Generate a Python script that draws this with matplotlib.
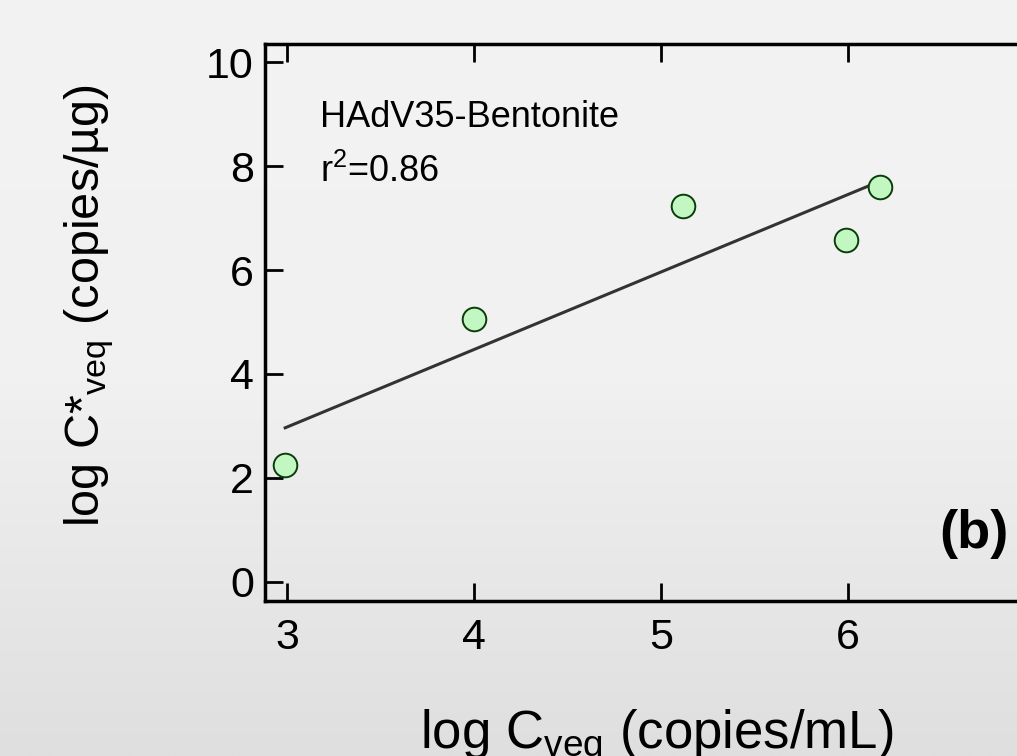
import matplotlib
matplotlib.use("Agg")
import matplotlib.pyplot as plt
import numpy as np

# data
log_c_veq = [2.99, 4.00, 5.12, 5.99, 6.17]
log_c_star = [2.25, 5.06, 7.23, 6.58, 7.60]
x_ticks = [3, 4, 5, 6]
y_ticks = [0, 2, 4, 6, 8, 10]

plt.rcParams['font.family'] = ['Liberation Sans', 'DejaVu Sans']
plt.rcParams['mathtext.fontset'] = 'custom'
plt.rcParams['mathtext.rm'] = 'Liberation Sans'
plt.rcParams['mathtext.it'] = 'Liberation Sans'
plt.rcParams['mathtext.default'] = 'regular'

fig = plt.figure(figsize=(10.17, 7.56), dpi=100)

# gray gradient background
bg = fig.add_axes([0, 0, 1, 1], zorder=-10)
grad = np.linspace(0, 1, 256).reshape(-1, 1)
bg.imshow(grad, aspect='auto', cmap=matplotlib.colors.LinearSegmentedColormap.from_list(
    'g', ['#f3f3f3', '#f1f1f1', '#dfdfdf']), extent=[0, 1, 0, 1])
bg.axis('off')

ax = fig.add_axes([265 / 1017, 1 - 601 / 756, (1060 - 265) / 1017, (601 - 44) / 756])
ax.set_facecolor('none')

# linear fit
slope, intercept = np.polyfit(log_c_veq, log_c_star, 1)
xf = np.array([min(log_c_veq), max(log_c_veq)])
ax.plot(xf, slope * xf + intercept, color='#333333', lw=2.2, zorder=2)

ax.plot(log_c_veq, log_c_star, 'o', ms=17, mfc='#c2f7c2', mec='#0b3d0b', mew=1.4, zorder=3)

ax.set_xlim(2.882, 7.134)
ax.set_ylim(-0.37, 10.35)
ax.set_xticks(x_ticks)
ax.set_yticks(y_ticks)

for s in ['left', 'bottom', 'top']:
    ax.spines[s].set_linewidth(2.5)
ax.spines['right'].set_visible(False)

ax.tick_params(axis='x', direction='in', length=13, width=2, top=True, labelsize=31, pad=12)
ax.tick_params(axis='y', direction='in', length=13, width=2, right=False, labelsize=31, pad=8)

ax.text(3.176, 8.75, 'HAdV35-Bentonite', fontsize=26, va='baseline')
ax.text(3.176, 7.69, 'r$^2$=0.86', fontsize=26, va='baseline')
ax.text(6.86, 0.65, '(b)', fontsize=39, fontweight='bold', ha='right', va='baseline')

fig.text(657 / 1017, 1 - 749 / 756, 'log C$_{veq}$ (copies/mL)', fontsize=38,
         ha='center', va='baseline')
fig.text(89 / 1017, 1 - 305 / 756, 'log C*$_{veq}$ (copies/\u00b5g)', fontsize=35,
         ha='center', va='center', rotation=90)

fig.savefig('out.png', dpi=100)
